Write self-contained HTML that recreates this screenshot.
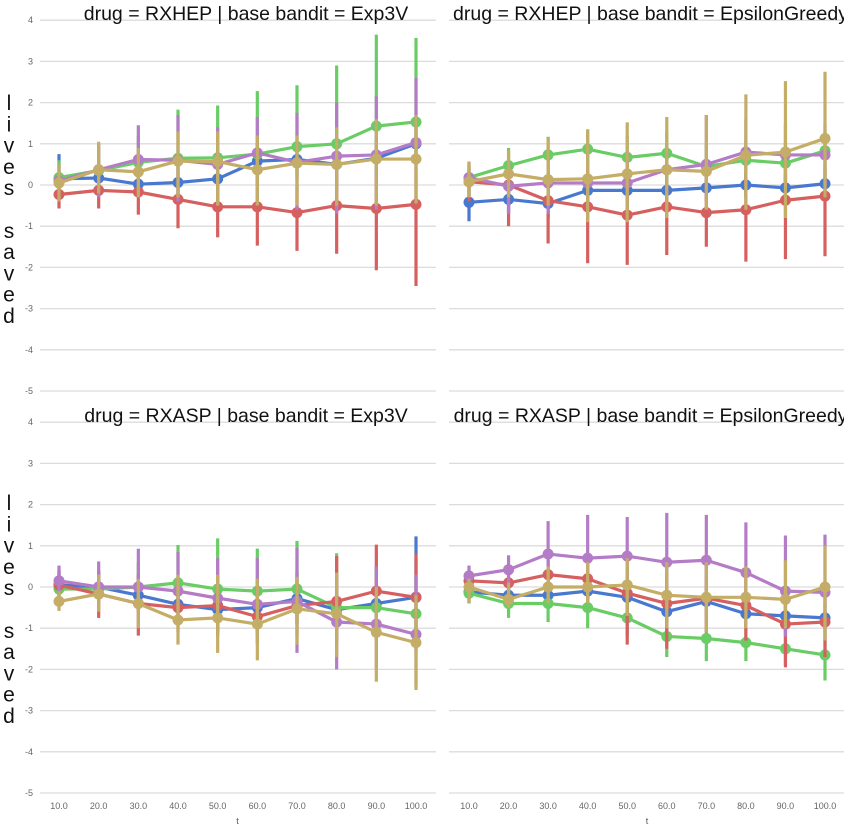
<!DOCTYPE html>
<html><head><meta charset="utf-8">
<style>
html,body{margin:0;padding:0;background:#fff;}
svg{display:block;}
</style></head>
<body>
<svg id="chart" width="844" height="832" xmlns="http://www.w3.org/2000/svg" font-family="'Liberation Sans', sans-serif"></svg>
<script>
const categories = [10,20,30,40,50,60,70,80,90,100];
const yTicks = [4,3,2,1,0,-1,-2,-3,-4,-5];
const xTickLabels = ["10.0","20.0","30.0","40.0","50.0","60.0","70.0","80.0","90.0","100.0"];
const seriesNames = ["blue","green","red","purple","gold"];
const seriesColors = ["#4878cf","#6acc65","#d65f5f","#b47cc7","#c4ad66"];

// Panel 1: RXHEP / Exp3V
const p1Blue   = [0.15,0.17,0.02,0.06,0.15,0.58,0.62,0.5,0.65,1.0];
const p1BlueLo = [-0.3,-0.2,-0.3,-0.3,-0.3,0.1,0.2,0.1,0.2,0.5];
const p1BlueHi = [0.75,0.6,0.4,0.5,0.6,1.0,1.0,0.9,1.1,1.5];
const p1Green   = [0.18,0.35,0.55,0.65,0.66,0.75,0.93,1.0,1.43,1.53];
const p1GreenLo = [-0.2,0.0,0.1,0.1,0.0,0.0,0.1,0.0,0.3,0.4];
const p1GreenHi = [0.6,0.9,1.2,1.83,1.93,2.28,2.42,2.9,3.65,3.57];
const p1Red   = [-0.23,-0.13,-0.17,-0.35,-0.53,-0.53,-0.67,-0.5,-0.57,-0.47];
const p1RedLo = [-0.57,-0.57,-0.72,-1.05,-1.27,-1.47,-1.6,-1.67,-2.07,-2.45];
const p1RedHi = [0.05,0.1,0.2,0.1,0.0,0.1,0.0,0.2,0.2,0.4];
const p1Purple   = [0.1,0.37,0.62,0.6,0.5,0.78,0.55,0.7,0.73,1.03];
const p1PurpleLo = [-0.4,-0.3,-0.2,-0.4,-0.5,-0.4,-0.6,-0.7,-0.6,-0.4];
const p1PurpleHi = [0.5,1.0,1.45,1.7,1.4,1.65,1.75,2.0,2.15,2.6];
const p1Gold   = [0.05,0.37,0.32,0.58,0.57,0.37,0.53,0.5,0.63,0.63];
const p1GoldLo = [-0.4,-0.2,-0.3,-0.3,-0.5,-0.5,-0.5,-0.5,-0.5,-0.45];
const p1GoldHi = [0.5,1.05,0.9,1.3,1.3,1.2,1.2,1.4,1.6,1.7];

// Panel 2: RXHEP / EpsilonGreedy
const p2Blue   = [-0.42,-0.35,-0.45,-0.13,-0.13,-0.13,-0.07,0.0,-0.07,0.03];
const p2BlueLo = [-0.88,-0.7,-0.8,-0.5,-0.5,-0.5,-0.4,-0.3,-0.4,-0.3];
const p2BlueHi = [0.0,0.0,-0.1,0.2,0.2,0.2,0.25,0.3,0.25,0.35];
const p2Green   = [0.18,0.47,0.73,0.87,0.67,0.77,0.45,0.6,0.53,0.83];
const p2GreenLo = [-0.2,0.0,0.2,0.3,0.1,0.2,0.0,0.1,0.0,0.3];
const p2GreenHi = [0.5,0.9,1.17,1.35,1.2,1.3,1.0,1.1,1.0,1.3];
const p2Red   = [0.08,0.0,-0.38,-0.53,-0.73,-0.53,-0.67,-0.6,-0.37,-0.27];
const p2RedLo = [-0.4,-1.0,-1.42,-1.9,-1.94,-1.7,-1.5,-1.86,-1.8,-1.73];
const p2RedHi = [0.4,0.4,0.3,0.3,0.2,0.3,0.2,0.3,0.4,0.5];
const p2Purple   = [0.18,-0.03,0.05,0.05,0.05,0.37,0.5,0.8,0.73,0.73];
const p2PurpleLo = [-0.3,-0.7,-0.7,-0.5,-0.5,-0.3,-0.3,0.0,0.0,0.0];
const p2PurpleHi = [0.57,0.6,0.8,0.8,0.8,1.0,1.7,1.6,1.5,1.5];
const p2Gold   = [0.08,0.27,0.13,0.15,0.27,0.37,0.33,0.72,0.8,1.13];
const p2GoldLo = [-0.3,-0.3,-0.5,-0.9,-0.9,-0.8,-0.6,-0.6,-0.8,-0.3];
const p2GoldHi = [0.57,0.85,1.15,1.35,1.52,1.65,1.7,2.2,2.52,2.75];

// Panel 3: RXASP / Exp3V
const p3Blue   = [0.05,0.0,-0.2,-0.42,-0.55,-0.5,-0.28,-0.55,-0.4,-0.25];
const p3BlueLo = [-0.3,-0.3,-0.6,-0.9,-1.1,-1.1,-0.9,-1.3,-1.2,-1.5];
const p3BlueHi = [0.4,0.4,0.3,0.2,0.2,0.2,0.4,0.3,0.5,1.23];
const p3Green   = [-0.05,-0.05,0.0,0.1,-0.05,-0.1,-0.05,-0.5,-0.5,-0.65];
const p3GreenLo = [-0.4,-0.4,-0.5,-0.6,-0.8,-0.9,-0.9,-1.4,-1.3,-1.6];
const p3GreenHi = [0.35,0.4,0.6,1.02,1.18,0.93,1.12,0.82,0.4,0.3];
const p3Red   = [0.05,-0.17,-0.4,-0.5,-0.45,-0.72,-0.45,-0.35,-0.1,-0.25];
const p3RedLo = [-0.3,-0.75,-1.18,-1.1,-1.2,-1.4,-1.2,-1.3,-1.0,-1.3];
const p3RedHi = [0.4,0.4,0.3,0.2,0.3,0.0,0.3,0.75,1.03,0.82];
const p3Purple   = [0.15,0.0,0.0,-0.1,-0.27,-0.42,-0.35,-0.85,-0.9,-1.15];
const p3PurpleLo = [-0.2,-0.2,-0.5,-0.9,-1.1,-1.2,-1.6,-2.0,-2.0,-2.4];
const p3PurpleHi = [0.52,0.62,0.93,0.85,0.7,0.7,0.95,0.3,0.5,0.3];
const p3Gold   = [-0.35,-0.17,-0.4,-0.8,-0.75,-0.9,-0.53,-0.65,-1.1,-1.35];
const p3GoldLo = [-0.58,-0.6,-1.0,-1.4,-1.6,-1.78,-1.4,-1.7,-2.3,-2.5];
const p3GoldHi = [-0.1,0.3,0.2,0.3,0.3,0.2,0.25,0.35,0.0,-0.2];

// Panel 4: RXASP / EpsilonGreedy
const p4Blue   = [-0.12,-0.2,-0.2,-0.1,-0.25,-0.6,-0.35,-0.65,-0.7,-0.75];
const p4BlueLo = [-0.4,-0.5,-0.5,-0.4,-0.6,-1.0,-0.8,-1.0,-1.1,-1.1];
const p4BlueHi = [0.15,0.1,0.1,0.2,0.1,-0.2,0.1,-0.3,-0.3,-0.4];
const p4Green   = [-0.15,-0.4,-0.4,-0.5,-0.75,-1.2,-1.25,-1.35,-1.5,-1.65];
const p4GreenLo = [-0.4,-0.75,-0.85,-1.0,-1.2,-1.7,-1.8,-1.8,-1.9,-2.27];
const p4GreenHi = [0.1,-0.1,0.0,0.0,-0.3,-0.8,-0.8,-0.9,-1.1,-1.2];
const p4Red   = [0.15,0.1,0.3,0.2,-0.15,-0.4,-0.27,-0.45,-0.9,-0.85];
const p4RedLo = [-0.1,-0.2,-0.1,-0.3,-1.4,-1.5,-1.1,-1.3,-1.95,-1.7];
const p4RedHi = [0.4,0.4,0.7,0.6,0.5,0.3,0.5,0.2,-0.3,-0.2];
const p4Purple   = [0.27,0.42,0.8,0.7,0.75,0.6,0.65,0.35,-0.1,-0.13];
const p4PurpleLo = [0.0,0.0,0.0,-0.2,-0.3,-0.5,-0.6,-0.6,-1.2,-1.3];
const p4PurpleHi = [0.52,0.77,1.6,1.75,1.7,1.8,1.75,1.57,1.25,1.27];
const p4Gold   = [0.0,-0.3,0.0,0.0,0.05,-0.2,-0.25,-0.25,-0.3,0.0];
const p4GoldLo = [-0.4,-0.5,-0.4,-0.4,-0.7,-1.0,-1.1,-1.0,-1.0,-1.3];
const p4GoldHi = [0.2,0.1,0.5,0.6,0.7,0.6,0.6,0.5,0.65,1.0];

const panels = [
  {title:"drug = RXHEP | base bandit = Exp3V", gx0:40, gx1:436, x10:59, x100:416, y0:185, left:true, bottom:false,
   series:[[p1Blue,p1BlueLo,p1BlueHi],[p1Green,p1GreenLo,p1GreenHi],[p1Red,p1RedLo,p1RedHi],[p1Purple,p1PurpleLo,p1PurpleHi],[p1Gold,p1GoldLo,p1GoldHi]]},
  {title:"drug = RXHEP | base bandit = EpsilonGreedy", gx0:449, gx1:844, x10:469, x100:825, y0:185, left:false, bottom:false,
   series:[[p2Blue,p2BlueLo,p2BlueHi],[p2Green,p2GreenLo,p2GreenHi],[p2Red,p2RedLo,p2RedHi],[p2Purple,p2PurpleLo,p2PurpleHi],[p2Gold,p2GoldLo,p2GoldHi]]},
  {title:"drug = RXASP | base bandit = Exp3V", gx0:40, gx1:436, x10:59, x100:416, y0:587, left:true, bottom:true,
   series:[[p3Blue,p3BlueLo,p3BlueHi],[p3Green,p3GreenLo,p3GreenHi],[p3Red,p3RedLo,p3RedHi],[p3Purple,p3PurpleLo,p3PurpleHi],[p3Gold,p3GoldLo,p3GoldHi]]},
  {title:"drug = RXASP | base bandit = EpsilonGreedy", gx0:449, gx1:844, x10:469, x100:825, y0:587, left:false, bottom:true,
   series:[[p4Blue,p4BlueLo,p4BlueHi],[p4Green,p4GreenLo,p4GreenHi],[p4Red,p4RedLo,p4RedHi],[p4Purple,p4PurpleLo,p4PurpleHi],[p4Gold,p4GoldLo,p4GoldHi]]}
];

const NS = "http://www.w3.org/2000/svg";
const svg = document.getElementById("chart");
const UNIT = 41.2;
function mk(tag, attrs, parent){
  const e = document.createElementNS(NS, tag);
  for (const k in attrs) e.setAttribute(k, attrs[k]);
  (parent||svg).appendChild(e);
  return e;
}

panels.forEach((p, pi) => {
  const g = mk("g", {});
  
  
  const xs = i => p.x10 + (p.x100 - p.x10) * (categories[i] - categories[0]) / (categories[categories.length-1] - categories[0]);
  const ys = v => p.y0 - v * UNIT;

  yTicks.forEach(t => {
    const l = mk("line", {x1:p.gx0, x2:p.gx1, y1:ys(t), y2:ys(t), stroke:"#dcdcdc", "stroke-width":1.3}, g);
    
    
    if (p.left) {
      const tx = mk("text", {x:33, y:ys(t)+3, "text-anchor":"end", "font-size":9, fill:"#666"}, g);
      tx.textContent = t;
      
      
    }
  });

  if (p.bottom) {
    categories.forEach((c, i) => {
      const tx = mk("text", {x:xs(i), y:809, "text-anchor":"middle", "font-size":9, fill:"#666"}, g);
      tx.textContent = xTickLabels[i];
      
      
    });
    const xt = mk("text", {x:(p.x10+p.x100)/2, y:824, "text-anchor":"middle", "font-size":9, fill:"#555"}, g);
    xt.textContent = "t";
    
    
  }

  const title = mk("text", {x:(p.gx0+p.gx1)/2 + (p.left?8:4), y:p.y0 - 165, "text-anchor":"middle", "font-size":19.5, fill:"#111"}, g);
  title.textContent = p.title;
  
  

  p.series.forEach((s, si) => {
    const [m, lo, hi] = s;
    const col = seriesColors[si];
    const sg = mk("g", {}, g);
    
    
    m.forEach((v, i) => {
      const e = mk("line", {x1:xs(i), x2:xs(i), y1:ys(lo[i]), y2:ys(hi[i]), stroke:col, "stroke-width":3.2}, sg);
      
      
    });
    const pts = m.map((v, i) => xs(i) + "," + ys(v)).join(" ");
    const pl = mk("polyline", {points:pts, fill:"none", stroke:col, "stroke-width":3.2, "stroke-linejoin":"round"}, sg);
    
    
    m.forEach((v, i) => {
      const c = mk("circle", {cx:xs(i), cy:ys(v), r:5.5, fill:col}, sg);
      
      
    });
  });
});

// y-axis titles (stacked letters)
const letters = ["l","i","v","e","s","","s","a","v","e","d"];
[0, 400].forEach((off, k) => {
  const g = mk("g", {});
  
  
  letters.forEach((ch, i) => {
    if (!ch) return;
    const t = mk("text", {x:9, y:110 + off + i*21.3, "text-anchor":"middle", "font-size":21, fill:"#111"}, g);
    t.textContent = ch;
  });
});
</script>
</body></html>
